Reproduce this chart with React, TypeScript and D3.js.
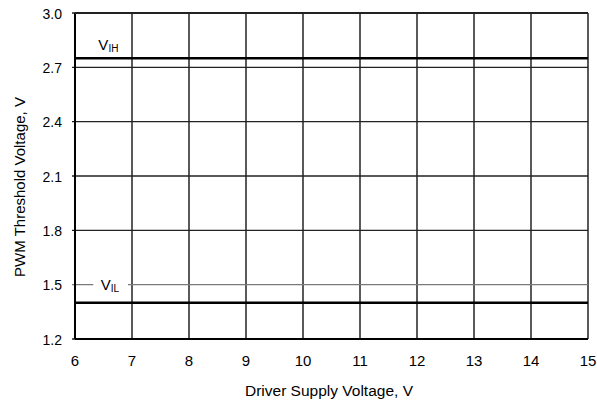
import React from "react";
import * as d3 from "d3";

const xTicks = [6, 7, 8, 9, 10, 11, 12, 13, 14, 15];
const yTicks = [1.2, 1.5, 1.8, 2.1, 2.4, 2.7, 3.0];
const supplyV = [6, 15];
const vihValues = [2.75, 2.75];
const vilValues = [1.4, 1.4];

const W = 597, H = 404;
const M = { left: 75, right: 9, top: 13, bottom: 65 };

export default function App() {
  const x = d3.scaleLinear().domain([6, 15]).range([M.left, W - M.right]);
  const y = d3.scaleLinear().domain([1.2, 3.0]).range([H - M.bottom, M.top]);
  const line = d3.line<number>().x((_, i) => x(supplyV[i])).y((d) => y(d));
  const font = "Arial, 'Liberation Sans', sans-serif";
  return (
    <svg width={W} height={H} style={{ position: "absolute", left: 0, top: 0 }} fontFamily={font}>
      <rect width={W} height={H} fill="#fff" />
      {xTicks.map((t) => (
        <line key={"vx" + t} x1={x(t)} x2={x(t)} y1={y(3)} y2={y(1.2)} stroke="#000" strokeWidth={1.3} />
      ))}
      {yTicks.map((t) => (
        <line key={"hy" + t} x1={x(6) - 3} x2={x(15)} y1={y(t)} y2={y(t)}
          stroke={t === 1.5 ? "#7a7a7a" : "#222"} strokeWidth={1.3} />
      ))}
      <line x1={x(6)} x2={x(6)} y1={y(3)} y2={y(1.2)} stroke="#000" strokeWidth={2} />
      <line x1={x(6)} x2={x(15)} y1={y(3)} y2={y(3)} stroke="#222" strokeWidth={2} />
      <line x1={x(6)} x2={x(15)} y1={y(1.2)} y2={y(1.2)} stroke="#000" strokeWidth={2} />
      <path d={line(vihValues) || ""} fill="none" stroke="#000" strokeWidth={2.5} />
      <path d={line(vilValues) || ""} fill="none" stroke="#000" strokeWidth={2.5} />
      <rect x={x(6.32)} y={y(1.5) - 8} width={x(6.93) - x(6.32)} height={16} fill="#fff" />
      <text x={x(6.45)} y={y(1.5) + 5.5} fontSize={15} fill="#000">
        V<tspan fontSize={10} dy={1.5}>IL</tspan>
      </text>
      <text x={x(6.41)} y={50} fontSize={15} fill="#000">
        V<tspan fontSize={10} dy={1.5}>IH</tspan>
      </text>
      {xTicks.map((t) => (
        <text key={"xt" + t} x={x(t)} y={y(1.2) + 27} fontSize={15} textAnchor="middle" fill="#000">{t}</text>
      ))}
      {yTicks.map((t) => (
        <text key={"yt" + t} x={x(6) - 13} y={y(t) + 5.5} fontSize={14} textAnchor="end" fill="#000">{t.toFixed(1)}</text>
      ))}
      <text x={329} y={396} fontSize={15.5} textAnchor="middle" fill="#000">Driver Supply Voltage, V</text>
      <text transform={`translate(25,187) rotate(-90)`} fontSize={15} textAnchor="middle" fill="#000">PWM Threshold Voltage, V</text>
    </svg>
  );
}
